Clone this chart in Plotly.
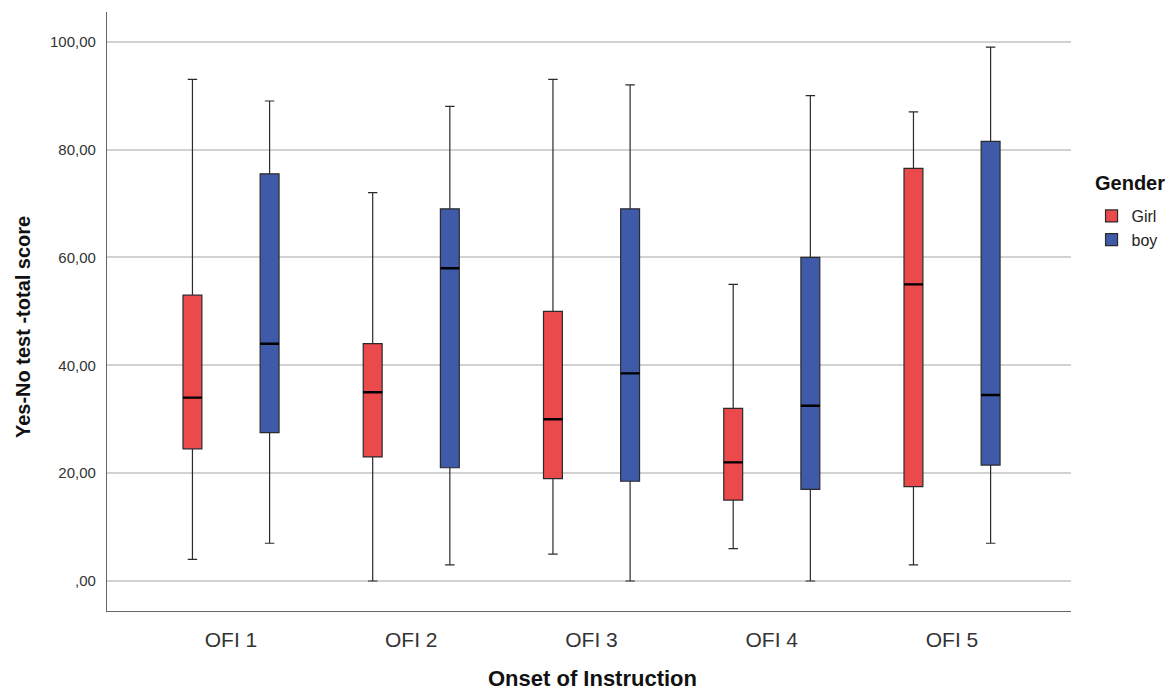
import plotly.graph_objects as go

categories = ["OFI 1", "OFI 2", "OFI 3", "OFI 4", "OFI 5"]

girl_min = [4, 0, 5, 6, 3]
girl_q1 = [24.5, 23, 19, 15, 17.5]
girl_med = [34, 35, 30, 22, 55]
girl_q3 = [53, 44, 50, 32, 76.5]
girl_max = [93, 72, 93, 55, 87]

boy_min = [7, 3, 0, 0, 7]
boy_q1 = [27.5, 21, 18.5, 17, 21.5]
boy_med = [44, 58, 38.5, 32.5, 34.5]
boy_q3 = [75.5, 69, 69, 60, 81.5]
boy_max = [89, 88, 92, 90, 99]

y_tickvals = [0, 20, 40, 60, 80, 100]
y_ticktext = [",00", "20,00", "40,00", "60,00", "80,00", "100,00"]

GIRL = "#EB4A4D"
BOY = "#3F5AA8"
FONT = "Liberation Sans, Arial, sans-serif"

fig = go.Figure()

def add_box(name, color, lo, q1, med, q3, hi, group):
    fig.add_trace(go.Box(
        name=name, x=categories, q1=q1, median=med, q3=q3,
        lowerfence=lo, upperfence=hi,
        fillcolor=color, line=dict(color="#2b2b2b", width=1.2),
        whiskerwidth=0.5, offsetgroup=group, showlegend=True,
        hoverinfo="skip",
    ))

def add_median(med, group):
    fig.add_trace(go.Box(
        x=categories, q1=med, median=med, q3=med,
        lowerfence=med, upperfence=med,
        fillcolor="rgba(0,0,0,0)", line=dict(color="#000000", width=2.4),
        whiskerwidth=0, offsetgroup=group, showlegend=False,
        hoverinfo="skip",
    ))

add_box("Girl", GIRL, girl_min, girl_q1, girl_med, girl_q3, girl_max, "g")
add_box("boy", BOY, boy_min, boy_q1, boy_med, boy_q3, boy_max, "b")
add_median(girl_med, "g")
add_median(boy_med, "b")

fig.update_layout(
    width=1165, height=683,
    margin=dict(l=99, r=102, t=4, b=80),
    paper_bgcolor="white", plot_bgcolor="white",
    boxmode="group", boxgap=0.144, boxgroupgap=0.755,
    font=dict(family=FONT, color="#222"),
    legend=dict(
        x=1.0213, y=0.6878, xanchor="left", yanchor="top",
        font=dict(size=16, color="#222"),
        tracegroupgap=0, itemwidth=30,
    ),
    xaxis=dict(
        type="category", range=[-0.688, 4.66],
        showline=True, linecolor="#666", linewidth=1.3, mirror=False,
        showgrid=False, ticks="", ticklabelstandoff=10,
        tickfont=dict(size=21, color="#333"),
    ),
    yaxis=dict(
        range=[-5.56, 105.5], tickvals=y_tickvals, ticktext=y_ticktext,
        showline=True, linecolor="#666", linewidth=1.3,
        showgrid=True, gridcolor="#d2d2d2", gridwidth=1.5, zeroline=False,
        ticks="", ticklabelstandoff=7,
        tickfont=dict(size=15, color="#333"),
    ),
    annotations=[
        dict(text="<b>Gender</b>", xref="paper", yref="paper", x=1.0228, y=0.7145,
             xanchor="left", yanchor="middle", showarrow=False,
             font=dict(size=20, color="#111")),
        dict(text="<b>Yes-No test -total score</b>", xref="paper", yref="paper",
             x=-0.0871, y=0.4741, xanchor="center", yanchor="middle", textangle=-90,
             showarrow=False, font=dict(size=20, color="#111")),
        dict(text="<b>Onset of Instruction</b>", xref="paper", yref="paper",
             x=0.5041, y=-0.1135, xanchor="center", yanchor="middle",
             showarrow=False, font=dict(size=22, color="#111")),
    ],
)

fig.write_html("out.html")
